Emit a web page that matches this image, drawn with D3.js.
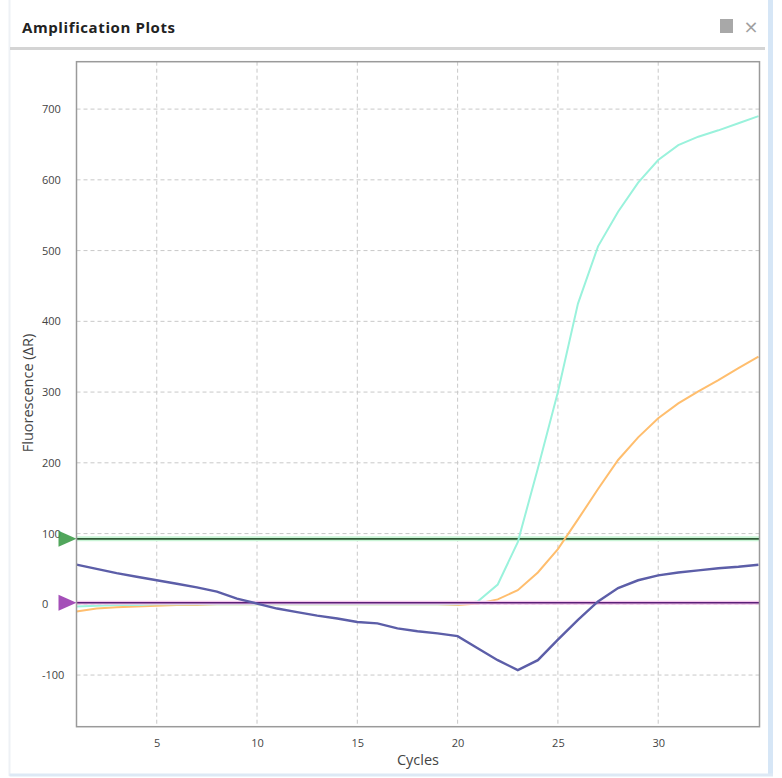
<!DOCTYPE html>
<html>
<head>
<meta charset="utf-8">
<script src="https://cdn.jsdelivr.net/npm/d3@7"></script>
<style>
  html, body { margin: 0; padding: 0; background: #ffffff; }
  svg { display: block; }
</style>
</head>
<body>
<svg id="chart" width="782" height="778"></svg>
<script>
// ---- data ----
const cycles = d3.range(1, 36);
const cyanValues = [-3, -2, -1, -1, 0, 0, 0, 0, 0, 0, 0, 0, 0, 0, 0, 0, 0, 0, 0, 0,
  4, 28, 88, 192, 300, 425, 506, 555, 596, 628, 649, 661, 670, 680, 690];
const orangeValues = [-10, -6, -4, -3, -2, -1, -1, 0, 0, 0, 0, 0, 0, 0, 0, 0, 0, 0, 0, -1,
  1, 7, 20, 45, 78, 120, 163, 204, 236, 263, 284, 301, 317, 334, 350];
const blueValues = [56, 50, 44, 39, 34, 29, 24, 18, 8, 1, -6, -11, -16, -20, -25, -27, -34, -38, -41, -45,
  -62, -79, -93, -79, -50, -22, 4, 23, 34, 41, 45, 48, 51, 53, 56];
const thresholds = [92.5, 2.3];
const xTicks = [5, 10, 15, 20, 25, 30];
const yTicks = [-100, 0, 100, 200, 300, 400, 500, 600, 700];
const xDomain = [1, 35.05];
const yDomain = [-173, 767];

(function () {
// ---- layout ----
const svg = d3.select("#chart");
const pL = 76.5, pR = 759.5, pT = 61.7, pB = 726.7;

// panel frame
svg.append("line").attr("x1", 9.5).attr("x2", 9.5).attr("y1", 0).attr("y2", 776)
  .attr("stroke", "#eef1f5").attr("stroke-width", 2);
svg.append("line").attr("x1", 770.5).attr("x2", 770.5).attr("y1", 0).attr("y2", 776)
  .attr("stroke", "#d6e6f6").attr("stroke-width", 5);
svg.append("line").attr("x1", 9.5).attr("x2", 773).attr("y1", 775).attr("y2", 775)
  .attr("stroke", "#dde9f5").attr("stroke-width", 3);

// header
svg.append("text").attr("x", 22).attr("y", 33)
  .attr("font-family", "'Open Sans', 'DejaVu Sans', sans-serif")
  .attr("font-weight", "bold").attr("font-size", 15).attr("letter-spacing", 0.6).attr("fill", "#222")
  .text("Amplification Plots");
svg.append("rect").attr("x", 720).attr("y", 19).attr("width", 13).attr("height", 14)
  .attr("fill", "#a8a8a8");
svg.append("text").attr("x", 751).attr("y", 33).attr("text-anchor", "middle")
  .attr("font-family", "'DejaVu Sans', sans-serif").attr("font-size", 18).attr("fill", "#a0a0a0")
  .text("×");
svg.append("line").attr("x1", 10).attr("x2", 765).attr("y1", 48.5).attr("y2", 48.5)
  .attr("stroke", "#d4d4d4").attr("stroke-width", 3);

const x = d3.scaleLinear().domain(xDomain).range([pL, pR]);
const y = d3.scaleLinear().domain(yDomain).range([pB, pT]);

// grid
const grid = svg.append("g");
grid.selectAll(".vg").data(xTicks).enter().append("line")
  .attr("x1", d => x(d)).attr("x2", d => x(d)).attr("y1", pT).attr("y2", pB)
  .attr("stroke", "#c8c8c8").attr("stroke-width", 1).attr("stroke-dasharray", "4,3");
grid.selectAll(".hg").data(yTicks).enter().append("line")
  .attr("x1", pL).attr("x2", pR).attr("y1", d => y(d)).attr("y2", d => y(d))
  .attr("stroke", "#c8c8c8").attr("stroke-width", 1).attr("stroke-dasharray", "4,3");

// axes (labels)
const fontFam = "'Open Sans', 'DejaVu Sans', sans-serif";
const xAxis = svg.append("g").attr("transform", `translate(0,${pB})`)
  .call(d3.axisBottom(x).tickValues(xTicks).tickSize(0).tickPadding(13).tickFormat(d => String(d)));
const yAxis = svg.append("g").attr("transform", `translate(${pL},0)`)
  .call(d3.axisLeft(y).tickValues(yTicks).tickSize(0).tickFormat(d => String(d)));
[xAxis, yAxis].forEach(a => {
  a.select(".domain").remove();
  a.selectAll("text").attr("font-family", fontFam).attr("font-size", 11).attr("fill", "#444");
});
yAxis.selectAll("text").attr("text-anchor", "start").attr("x", 42 - pL);

svg.append("text").attr("x", 418).attr("y", 765).attr("text-anchor", "middle")
  .attr("font-family", fontFam).attr("font-size", 14.5).attr("fill", "#444").text("Cycles");
svg.append("text").attr("transform", `translate(33,393) rotate(-90)`)
  .attr("text-anchor", "middle").attr("font-family", fontFam).attr("font-size", 14.5)
  .attr("fill", "#444").text("Fluorescence (ΔR)");

// clip
svg.append("clipPath").attr("id", "clip").append("rect")
  .attr("x", pL).attr("y", pT).attr("width", pR - pL).attr("height", pB - pT);

const plot = svg.append("g").attr("clip-path", "url(#clip)");
const line = d3.line().x((d, i) => x(cycles[i])).y(d => y(d)).curve(d3.curveLinear);

// threshold lines
plot.append("line").attr("x1", pL).attr("x2", pR)
  .attr("y1", y(thresholds[0])).attr("y2", y(thresholds[0]))
  .attr("stroke", "#c9f5d6").attr("stroke-width", 5);
plot.append("line").attr("x1", pL).attr("x2", pR)
  .attr("y1", y(thresholds[0])).attr("y2", y(thresholds[0]))
  .attr("stroke", "#2f5a36").attr("stroke-width", 1.6);

plot.append("path").datum(orangeValues).attr("d", line)
  .attr("fill", "none").attr("stroke", "#ffbe6e").attr("stroke-width", 2);
plot.append("path").datum(cyanValues).attr("d", line)
  .attr("fill", "none").attr("stroke", "#9af2dc").attr("stroke-width", 2);

plot.append("line").attr("x1", pL).attr("x2", pR)
  .attr("y1", y(thresholds[1])).attr("y2", y(thresholds[1]))
  .attr("stroke", "#f3c6ea").attr("stroke-width", 4);
plot.append("line").attr("x1", pL).attr("x2", pR)
  .attr("y1", y(thresholds[1])).attr("y2", y(thresholds[1]))
  .attr("stroke", "#5a1f78").attr("stroke-width", 1.6);

plot.append("path").datum(blueValues).attr("d", line)
  .attr("fill", "none").attr("stroke", "#5c5ea8").attr("stroke-width", 2.4);

// plot border
svg.append("rect").attr("x", pL).attr("y", pT).attr("width", pR - pL).attr("height", pB - pT)
  .attr("fill", "none").attr("stroke", "#9a9a9a").attr("stroke-width", 1.5);

// threshold markers
const markColors = ["#3e9c4a", "#9a3cb0"];
thresholds.forEach((t, i) => {
  const cy = y(t);
  svg.append("path")
    .attr("d", `M${pL - 18},${cy - 8} L${pL},${cy} L${pL - 18},${cy + 8} Z`)
    .attr("fill", markColors[i]).attr("opacity", 0.9);
});
})();
</script>
</body>
</html>
